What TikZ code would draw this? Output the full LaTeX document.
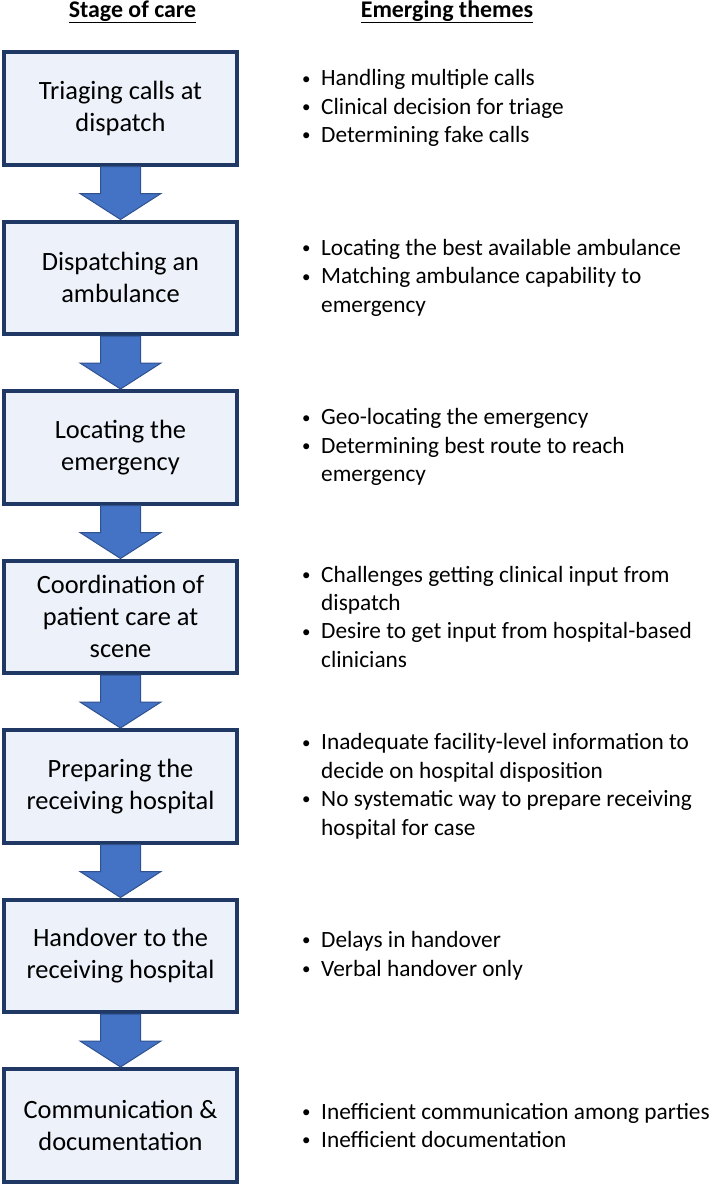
\documentclass[tikz,border=0pt]{standalone}
\usepackage{fontspec}
\setmainfont{Carlito}
\usetikzlibrary{positioning, calc}

\definecolor{boxline}{RGB}{31,56,100}
\definecolor{boxfill}{RGB}{237,241,250}
\definecolor{arrfill}{RGB}{68,114,196}
\definecolor{arrline}{RGB}{47,82,143}

\newcommand{\itm}[1]{\makebox[19bp][l]{\raisebox{1.8bp}{\fontsize{17}{17}\selectfont\textbullet}}#1}
\newcommand{\cnt}[1]{\hspace*{19bp}#1}

\begin{document}
\begin{tikzpicture}[x=1bp, y=1bp, node distance=53bp]
    \tikzstyle{stage}=[draw=boxline, fill=boxfill, line width=4bp, minimum width=233bp,
        minimum height=112.5bp, align=center, inner sep=0pt, font=\fontsize{26.5}{32}\selectfont]
    \tikzstyle{theme}=[align=left, inner sep=0pt, font=\fontsize{23.4}{28.5}\selectfont]
    \tikzstyle{head}=[inner sep=0pt, anchor=base, font=\fontsize{24}{28}\selectfont\bfseries]
    \tikzstyle{flow}=[fill=arrfill, draw=arrline, line width=1bp, line join=miter]
    \useasboundingbox (0,0) rectangle (714,-1185);

    \node[stage] (b1) at (120.5,-108.25) {Triaging calls at\\dispatch};
    \node[stage, below=of b1] (b2) {Dispatching an\\ambulance};
    \node[stage, below=of b2] (b3) {Locating the\\emergency};
    \node[stage, below=of b3] (b4) {Coordination of\\patient care at\\scene};
    \node[stage, below=of b4] (b5) {Preparing the\\receiving hospital};
    \node[stage, below=of b5] (b6) {Handover to the\\receiving hospital};
    \node[stage, below=of b6] (b7) {Communication \&\\documentation};

    \foreach \i [count=\j from 2] in {1,...,6}
        \draw[flow] ($(b\i.south)+(-20,0)$) -- ($(b\j.north)+(-20,26)$) -- ($(b\j.north)+(-40.5,26)$)
            -- (b\j.north) -- ($(b\j.north)+(40.5,26)$) -- ($(b\j.north)+(20,26)$)
            -- ($(b\i.south)+(20,0)$) -- cycle;

    \node[theme, right=63bp of b1] (t1) {\itm{Handling multiple calls}\\\itm{Clinical decision for triage}\\\itm{Determining fake calls}};
    \node[theme, right=63bp of b2] (t2) {\itm{Locating the best available ambulance}\\\itm{Matching ambulance capability to}\\\cnt{emergency}};
    \node[theme, right=63bp of b3] (t3) {\itm{Geo-locating the emergency}\\\itm{Determining best route to reach}\\\cnt{emergency}};
    \node[theme, right=63bp of b4] (t4) {\itm{Challenges getting clinical input from}\\\cnt{dispatch}\\\itm{Desire to get input from hospital-based}\\\cnt{clinicians}};
    \node[theme, right=63bp of b5] (t5) {\itm{Inadequate facility-level information to}\\\cnt{decide on hospital disposition}\\\itm{No systematic way to prepare receiving}\\\cnt{hospital for case}};
    \node[theme, right=63bp of b6] (t6) {\itm{Delays in handover}\\\itm{Verbal handover only}};
    \node[theme, right=63bp of b7] (t7) {\itm{Inefficient communication among parties}\\\itm{Inefficient documentation}};

    % column headings
    \node[head] (hstage) at ($(b1.north)+(12,33)$) {\underline{Stage of care}};
    \node[head] (htheme) at (447,-17) {\underline{Emerging themes}};
\end{tikzpicture}
\end{document}
